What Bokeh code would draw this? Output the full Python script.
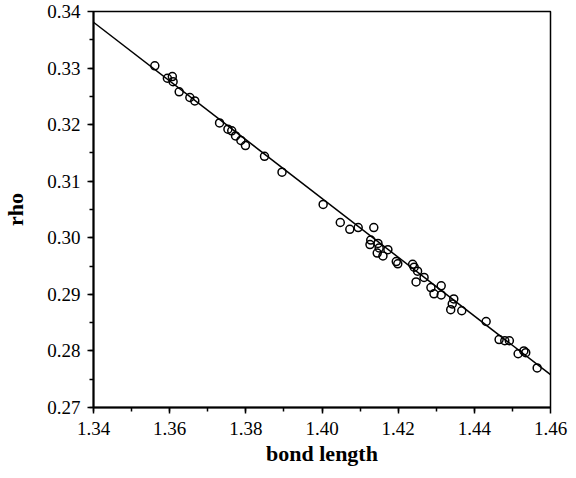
import numpy as np
from bokeh.plotting import figure
from bokeh.models import FixedTicker, PrintfTickFormatter
from bokeh.embed import file_html
from bokeh.resources import INLINE

# data
bond_length = [1.3561, 1.3594, 1.3607, 1.3609, 1.3625, 1.3653, 1.3666, 1.3731, 1.3753,
               1.3763, 1.3773, 1.3787, 1.3799, 1.3849, 1.3895, 1.4003, 1.4048, 1.4073,
               1.4095, 1.4136, 1.4128, 1.4126, 1.4147, 1.4150, 1.4145, 1.4160, 1.4173,
               1.4195, 1.4199, 1.4238, 1.4242, 1.4251, 1.4247, 1.4268, 1.4286, 1.4294,
               1.4313, 1.4313, 1.4346, 1.4342, 1.4338, 1.4367, 1.4431, 1.4465, 1.4480,
               1.4492, 1.4515, 1.4530, 1.4535, 1.4565]
rho = [0.3304, 0.3282, 0.3285, 0.3276, 0.3258, 0.3248, 0.3242, 0.3203, 0.3192,
       0.3189, 0.3180, 0.3172, 0.3163, 0.3144, 0.3116, 0.3059, 0.3027, 0.3015,
       0.3018, 0.3018, 0.2996, 0.2988, 0.2990, 0.2982, 0.2973, 0.2968, 0.2979,
       0.2958, 0.2954, 0.2953, 0.2948, 0.2941, 0.2922, 0.2930, 0.2912, 0.2901,
       0.2915, 0.2899, 0.2892, 0.2883, 0.2873, 0.2871, 0.2852, 0.2820, 0.2818,
       0.2818, 0.2795, 0.2800, 0.2797, 0.2770]

fit_x = [1.34, 1.46]
fit_y = [0.3381, 0.2758]

x_ticks = [1.34, 1.36, 1.38, 1.40, 1.42, 1.44, 1.46]
y_ticks = [0.27, 0.28, 0.29, 0.30, 0.31, 0.32, 0.33, 0.34]

FONT = "Liberation Serif"

p = figure(width=568, height=470, x_range=(1.34, 1.46), y_range=(0.27, 0.34),
           output_backend="svg", toolbar_location=None,
           min_border_left=87, min_border_right=18, min_border_top=11, min_border_bottom=63)
p.grid.visible = False
p.outline_line_color = "black"
p.outline_line_width = 1.5
p.background_fill_color = "white"
p.border_fill_color = "white"

p.line(fit_x, fit_y, line_color="black", line_width=1.5)
p.scatter(bond_length, rho, marker="circle", size=8, fill_color=None,
          line_color="black", line_width=1.5)

xminor = list(np.arange(1.34, 1.4601, 0.01))
yminor = list(np.arange(0.27, 0.3401, 0.005))
p.xaxis.ticker = FixedTicker(ticks=x_ticks, minor_ticks=xminor)
p.yaxis.ticker = FixedTicker(ticks=y_ticks, minor_ticks=yminor)
p.xaxis.formatter = PrintfTickFormatter(format="%.2f")
p.yaxis.formatter = PrintfTickFormatter(format="%.2f")

for ax in (p.xaxis[0], p.yaxis[0]):
    ax.axis_line_width = 2
    ax.axis_line_color = "black"
    ax.major_tick_line_color = "black"
    ax.major_tick_line_width = 1.5
    ax.minor_tick_line_color = "black"
    ax.minor_tick_line_width = 1.5
    ax.major_tick_out = 6
    ax.major_tick_in = 0
    ax.minor_tick_out = 4
    ax.minor_tick_in = 0
    ax.major_label_text_font = FONT
    ax.major_label_text_font_size = "19px"
    ax.major_label_text_color = "black"
    ax.axis_label_text_font = FONT
    ax.axis_label_text_font_size = "22px"
    ax.axis_label_text_font_style = "bold"
    ax.axis_label_text_color = "black"

p.xaxis.axis_label = "bond length"
p.yaxis.axis_label = "rho"
p.xaxis.major_label_standoff = 8
p.xaxis.axis_label_standoff = 3
p.yaxis.major_label_standoff = 7
p.yaxis.axis_label_standoff = 16

open("out.html", "w").write(file_html(p, INLINE))
